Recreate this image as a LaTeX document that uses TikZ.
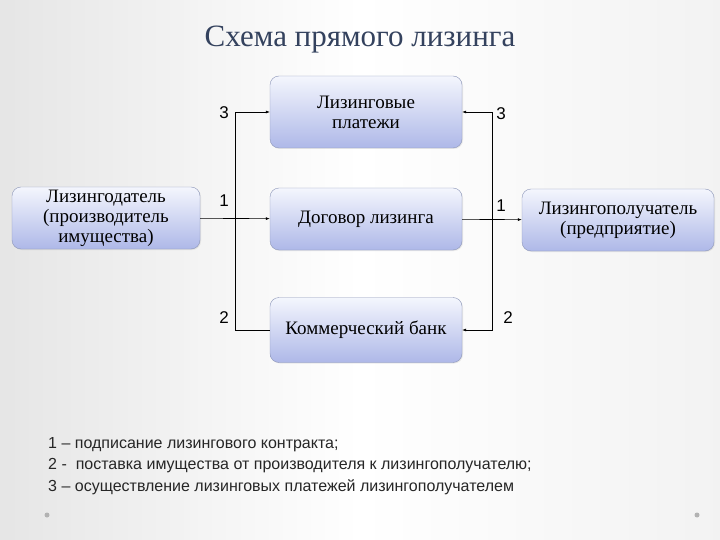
\documentclass[tikz,border=0pt]{standalone}
\usepackage{fontspec}
\setmainfont{Liberation Serif}
\newfontfamily\labelfont{Liberation Sans}
\usepackage{xcolor}
\usepackage{tikz}
\usetikzlibrary{positioning, arrows.meta, shadows}
\definecolor{boxtop}{HTML}{F4F6FD}
\definecolor{boxbot}{HTML}{AEB8E8}
\definecolor{boxline}{HTML}{8C96B8}
\definecolor{titleblue}{HTML}{34425E}

\begin{document}
\begin{tikzpicture}[x=1pt, y=-1pt,
    block/.style={draw=boxline, rounded corners=9pt, top color=boxtop, bottom color=boxbot,
        minimum width=192pt, minimum height=62pt, align=center, font=\fontsize{19}{20}\selectfont,
        inner sep=1pt, drop shadow={opacity=0.15, shadow xshift=1pt, shadow yshift=-1pt}},
    link/.style={semithick, black},
    tip/.style={-{Latex[length=4pt, width=3pt]}},
    num/.style={font=\labelfont\fontsize{17}{19}\selectfont, inner sep=1pt},
    legend/.style={anchor=west, font=\labelfont\fontsize{16}{18}\selectfont, inner sep=0pt, text=black!85},
]

% Background
\useasboundingbox (0,0) rectangle (720,540);
\shade[left color=gray!20, right color=gray!10, middle color=white] (0,0) rectangle (720,540);

% Title
\node[font=\fontsize{31}{34}\selectfont, text=titleblue] (title) at (360,40) {Схема прямого лизинга};

% Boxes
\node[block, minimum width=188pt] (lessor) at (106,218) {Лизингодатель\\(производитель\\имущества)};
\node[block, minimum height=72pt] (payments) at (366,112) {Лизинговые\\платежи};
\node[block] (contract) at (366,219) {Договор лизинга};
\node[block, minimum height=65pt] (bank) at (366,330) {Коммерческий банк};
\node[block] (lessee) at (618,220) {Лизингополучатель\\(предприятие)};

% Connectors
\draw[link, tip] (lessor) -- (contract);
\draw[link, tip] (contract) -- (lessee);
\draw[link, tip] (bank.west) -- ++(-35,0) |- (payments.west);
\draw[link, {Latex[length=4pt, width=3pt]}-{Latex[length=4pt, width=3pt]}] (bank.east) -- ++(30,0) |- (payments.east);

% Numbers
\node[num] (n3l) at (224,113) {3};
\node[num] (n1l) at (224,201) {1};
\node[num] (n2l) at (224,318) {2};
\node[num] (n3r) at (501,114) {3};
\node[num] (n1r) at (501,206) {1};
\node[num] (n2r) at (508,318) {2};

% Legend
\node[legend] (leg1) at (48,445) {1 – подписание лизингового контракта;};
\node[legend] (leg2) at (48,466) {2 -\ \ поставка имущества от производителя к лизингополучателю;};
\node[legend] (leg3) at (48,487) {3 – осуществление лизинговых платежей лизингополучателем};

% Dots
\fill[gray!60] (47,515) circle (2.5pt);
\fill[gray!60] (697,515) circle (2.5pt);

\end{tikzpicture}
\end{document}
